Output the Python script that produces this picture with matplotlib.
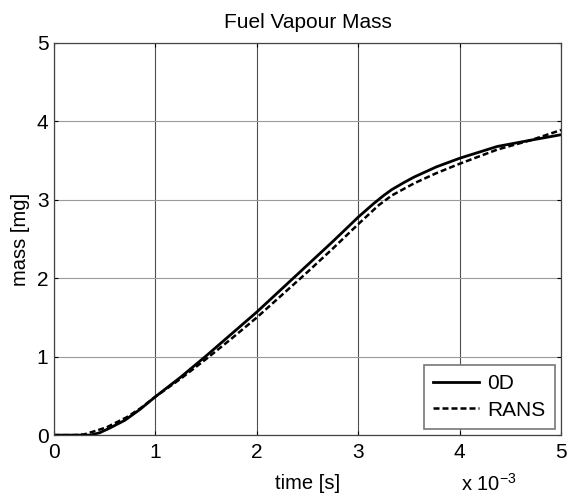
import matplotlib.pyplot as plt

plt.rcParams['font.family'] = ['Liberation Sans', 'DejaVu Sans']

# time in ms (axis shows seconds with x10^-3 multiplier)
t_0d = [0.0, 0.2, 0.36, 0.45, 0.55, 0.7, 0.85, 1.0, 1.25, 1.5, 1.75, 2.0, 2.25, 2.5, 2.75,
        3.0, 3.15, 3.25, 3.33, 3.45, 3.55, 3.77, 4.0, 4.37, 4.7, 5.0]
m_0d = [0.0, 0.0, 0.0, 0.03, 0.09, 0.19, 0.33, 0.49, 0.74, 1.01, 1.29, 1.57, 1.87, 2.17, 2.47,
        2.78, 2.95, 3.055, 3.13, 3.22, 3.29, 3.42, 3.53, 3.68, 3.76, 3.83]

t_rans = [0.0, 0.2, 0.3, 0.4, 0.52, 0.72, 0.85, 1.0, 1.25, 1.5, 1.75, 2.0, 2.25, 2.5, 2.75,
          3.0, 3.2, 3.33, 3.55, 3.77, 4.0, 4.37, 4.7, 5.0]
m_rans = [0.0, 0.0, 0.01, 0.05, 0.10, 0.23, 0.34, 0.49, 0.72, 0.97, 1.23, 1.50, 1.79, 2.08, 2.38,
          2.69, 2.93, 3.055, 3.21, 3.34, 3.46, 3.64, 3.76, 3.89]

x_ticks = [0, 1, 2, 3, 4, 5]
y_ticks = [0, 1, 2, 3, 4, 5]

fig = plt.figure(figsize=(5.68, 4.99), dpi=100)
ax = fig.add_axes([0.095, 0.128, 0.893, 0.786])

ax.plot(t_0d, m_0d, color='black', lw=2.0, ls='-', label='0D')
ax.plot(t_rans, m_rans, color='black', lw=1.8, ls=(0, (2.4, 1.2)), label='RANS')

ax.set_xlim(0, 5)
ax.set_ylim(0, 5)
ax.set_xticks(x_ticks)
ax.set_yticks(y_ticks)
ax.tick_params(direction='in', top=True, right=True, length=3, labelsize=15)
ax.tick_params(axis='x', pad=6)
ax.tick_params(axis='y', pad=4)
for s in ax.spines.values():
    s.set_color('#444444')
    s.set_linewidth(0.9)

ax.xaxis.grid(True, color='#505050', lw=0.8)
ax.yaxis.grid(True, color='#9a9a9a', lw=0.8)
ax.set_axisbelow(True)

ax.set_title('Fuel Vapour Mass', fontsize=15, pad=11)
ax.set_xlabel('time [s]', fontsize=14.5, labelpad=8)
ax.set_ylabel('mass [mg]', fontsize=14.5, labelpad=5)

fig.text(0.91, 0.008, r'x 10$^{\mathregular{-3}}$', ha='right', va='bottom', fontsize=14.5)

leg = ax.legend(loc='lower right', fontsize=15, fancybox=False, framealpha=1,
                edgecolor='#777777', handlelength=2.2, borderaxespad=0.3,
                labelspacing=0.35, handletextpad=0.4, borderpad=0.45)
leg.get_frame().set_linewidth(1.2)

fig.savefig('out.png', dpi=100)
